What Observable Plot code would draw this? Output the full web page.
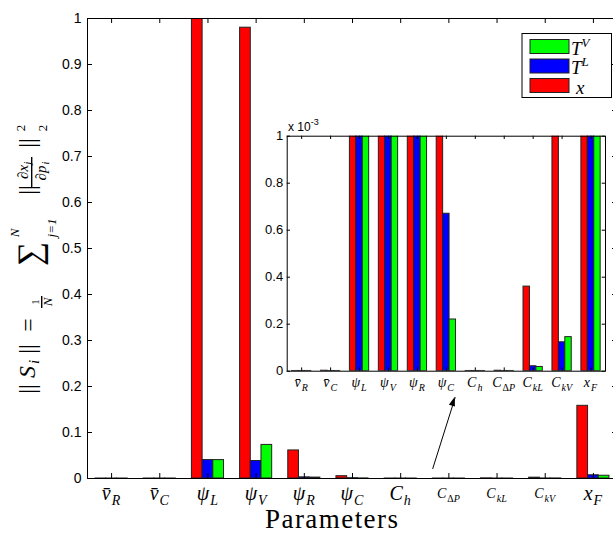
<!DOCTYPE html>
<html><head><meta charset="utf-8">
<script src="https://cdn.jsdelivr.net/npm/d3@7"></script>
<script src="https://cdn.jsdelivr.net/npm/@observablehq/plot@0.6"></script>
<style>
html,body{margin:0;padding:0;background:#fff;overflow:hidden}
#wrap{position:relative;width:613px;height:533px;overflow:hidden;background:#fff}
#wrap svg{position:absolute;background:transparent !important;}
#wrap svg text.serif{font-family:"Liberation Serif",serif !important;}
</style></head><body><div id="wrap"></div>
<script>
// ---- data ----
const categories = ["vR","vC","psiL","psiV","psiR","psiC","Ch","CdP","CkL","CkV","xF"];
const tickLabels = [
  {base:"v\u0304", sub:"R"}, {base:"v\u0304", sub:"C"}, {base:"ψ", sub:"L"}, {base:"ψ", sub:"V"},
  {base:"ψ", sub:"R"}, {base:"ψ", sub:"C"}, {base:"C", sub:"h"}, {base:"C", sub:"ΔP"},
  {base:"C", sub:"kL"}, {base:"C", sub:"kV"}, {base:"x", sub:"F"}
];
const seriesNames = ["x", "T^L", "T^V"];
const seriesLabels = [{base:"x", sup:""}, {base:"T", sup:"L"}, {base:"T", sup:"V"}];
const seriesColors = ["#ff0000", "#0000ff", "#00ff00"];
const xValues  = [0.000001, 0.000002, 1.0, 0.98, 0.061, 0.005, 0.000001, 0.000002, 0.00036, 0.0018, 0.158];
const tlValues = [0.000001, 0.000001, 0.040, 0.038, 0.0025, 0.00067, 0.000001, 0.000001, 0.000021, 0.000123, 0.007];
const tvValues = [0.000001, 0.000001, 0.040, 0.073, 0.002, 0.00022, 0.000001, 0.000001, 0.000018, 0.000145, 0.006];
const mainYTicks = [0, 0.1, 0.2, 0.3, 0.4, 0.5, 0.6, 0.7, 0.8, 0.9, 1];
const insetYTicks = [0, 0.0002, 0.0004, 0.0006, 0.0008, 0.001];
const arrowData = [{x1: 7.666, y1: 0.0217, x2: 8.13, y2: 0.176}];
const xLabel = "Parameters";

// ---- build ----
const valueSets = [xValues, tlValues, tvValues];
const rows = categories.flatMap((c, i) => seriesNames.map((s, j) => ({cat: c, pos: i + 1, series: s, j, value: valueSets[j][i]})));
const positions = categories.map((c, i) => i + 1);
const barW = 0.222;
const sans = "'Liberation Sans',Arial,sans-serif";
const wrap = document.getElementById("wrap");

function bars() {
  return Plot.rect(rows, {
    x1: d => d.pos + (d.j - 1.5) * barW,
    x2: d => d.pos + (d.j - 0.5) * barW,
    y1: d => 0, y2: "value", fill: "series", stroke: "#222", strokeWidth: 1, clip: true
  });
}

// main chart
const mW = 613, mH = 533, mL = 87, mT = 18, mB = 55, mR = -4;
const plotW = mW - mL - mR, plotH = mH - mT - mB;
const main = Plot.plot({
  width: mW, height: mH, marginLeft: mL, marginTop: mT, marginBottom: mB, marginRight: mR,
  style: {fontFamily: sans, fontSize: "14px", background: "transparent"},
  x: {domain: [0.5, 11.5], axis: null},
  y: {domain: [0, 1], axis: null},
  color: {domain: seriesNames, range: seriesColors},
  marks: [
    bars(),
    Plot.ruleX(positions, {insetTop: plotH - 5, stroke: "black"}),
    Plot.ruleX(positions, {insetBottom: plotH - 5, stroke: "black"}),
    Plot.ruleY(mainYTicks, {insetRight: plotW - 5, stroke: "black"}),
    Plot.ruleY(mainYTicks, {insetLeft: plotW - 5, stroke: "black"}),
    Plot.axisY({ticks: mainYTicks, tickSize: 0, tickPadding: 6, tickFormat: d => String(+d.toFixed(3)), label: null, fontSize: 14, fill: "black"}),
    Plot.frame({stroke: "black"}),
    Plot.arrow(arrowData, {x1: "x1", y1: "y1", x2: "x2", y2: "y2", headLength: 0, stroke: "black", strokeWidth: 1})
  ]
});
main.style.left = "0px"; main.style.top = "0px";
wrap.appendChild(main);

function mathLabel(sel, x, y, lab, baseSize, subSize, shift) {
  const t = sel.append("text").attr("class", "serif").attr("x", x).attr("y", y).attr("text-anchor", "middle")
    .style("font-style", "italic").style("font-size", baseSize + "px").attr("fill", "black");
  t.append("tspan").text(lab.base);
  [...lab.sub].forEach((ch, k) => {
    const ts = t.append("tspan").style("font-size", subSize + "px").text(ch);
    if (k === 0) ts.attr("dy", shift).attr("dx", 1);
    if (ch === "Δ") ts.style("font-style", "normal");
  });
}

const msvg = d3.select(main);
const mx = main.scale("x"), my = main.scale("y");

// filled arrowhead at the arrow's end, positioned through the plot's scales
arrowData.forEach(a => {
  const X1 = mx.apply(a.x1), Y1 = my.apply(a.y1), X2 = mx.apply(a.x2), Y2 = my.apply(a.y2);
  const ang = Math.atan2(Y2 - Y1, X2 - X1);
  const L = 9, Wd = 3.2;
  const bx = X2 - L * Math.cos(ang), by = Y2 - L * Math.sin(ang);
  const px = -Math.sin(ang) * Wd, py = Math.cos(ang) * Wd;
  msvg.append("path").attr("d", `M${X2},${Y2}L${bx + px},${by + py}L${bx - px},${by - py}Z`).attr("fill", "black");
});

const small = new Set(["CdP", "CkL", "CkV"]);
categories.forEach((c, i) => {
  const px = mx.apply(i + 1);
  if (small.has(c)) mathLabel(msvg, px, 498, tickLabels[i], 14, 10, 3.5);
  else mathLabel(msvg, px, 500, tickLabels[i], 20, 14, 5);
});
msvg.append("text").attr("class", "serif").attr("x", 331.5).attr("y", 528).attr("text-anchor", "middle")
  .attr("textLength", 133).attr("lengthAdjust", "spacing")
  .style("font-size", "27px").attr("fill", "black").text(xLabel);

// y label (rotated formula)
const yl = msvg.append("g").attr("transform", "rotate(-90)").attr("fill", "black");
function put(txt, Y, X, size, italic) {
  return yl.append("text").attr("class", "serif").attr("x", -Y).attr("y", X).attr("text-anchor", "middle")
    .style("font-size", size + "px").style("font-style", italic ? "italic" : "normal").text(txt);
}
function bar(Y1, Y2, X) {
  yl.append("line").attr("x1", -Y1).attr("x2", -Y2).attr("y1", X).attr("y2", X).attr("stroke", "black").attr("stroke-width", 1.4);
}
put("||", 389, 35, 24, false);
put("S", 372, 35, 24, true);
put("i", 362, 39, 15, true);
put("||", 349, 35, 24, false);
put("=", 325, 36, 24, false);
put("1", 302, 39, 11, false);
bar(296, 308, 41.7);
put("N", 302, 52, 13, true);
put("∑", 254, 41, 34, false);
put("N", 233, 19, 13, true);
put("j=1", 228, 56, 13, true);
put("||", 190, 35, 24, false);
put("∂x", 172, 28, 15, true); put("j", 163, 31, 10, true);
bar(157, 187, 31.7);
put("∂p", 173, 46, 15, true); put("i", 163, 49, 10, true);
put("||", 143, 35, 24, false);
put("2", 128, 25, 13, false);
put("2", 128, 47, 13, false);

// legend
const lg = msvg.append("g");
lg.append("rect").attr("x", 522).attr("y", 33.5).attr("width", 89.5).attr("height", 64)
  .attr("fill", "white").attr("stroke", "black").attr("stroke-width", 1);
[2, 1, 0].forEach((j, k) => {
  const top = 39.5 + k * 19.5;
  lg.append("rect").attr("x", 530).attr("y", top).attr("width", 39).attr("height", 14)
    .attr("fill", seriesColors[j]).attr("stroke", "#222").attr("stroke-width", 1);
  const t = lg.append("text").attr("class", "serif").attr("x", seriesLabels[j].sup ? 571 : 576).attr("y", top + 15).attr("fill", "black")
    .attr("text-anchor", "start").style("font-style", "italic").style("font-size", "19px");
  t.append("tspan").text(seriesLabels[j].base);
  if (seriesLabels[j].sup) t.append("tspan").attr("dy", -8).style("font-size", "13px").text(seriesLabels[j].sup);
});

// inset chart
const iLeft = 240, iTop = 110, iW = 373, iH = 300;
const iL = 286.7 - iLeft, iR = 613 - 605, iT = 135.7 - iTop, iB = iTop + iH - 370.7;
const iPW = iW - iL - iR, iPH = iH - iT - iB;
const inset = Plot.plot({
  width: iW, height: iH, marginLeft: iL, marginRight: iR, marginTop: iT, marginBottom: iB,
  style: {fontFamily: sans, fontSize: "13px", background: "transparent"},
  x: {domain: [0.5, 11.5], axis: null},
  y: {domain: [0, 0.001], axis: null},
  color: {domain: seriesNames, range: seriesColors},
  marks: [
    Plot.frame({fill: "white"}),
    bars(),
    Plot.ruleX(positions, {insetTop: iPH - 3.3, stroke: "black"}),
    Plot.ruleX(positions, {insetBottom: iPH - 3.3, stroke: "black"}),
    Plot.ruleY(insetYTicks, {insetRight: iPW - 3.3, stroke: "black"}),
    Plot.ruleY(insetYTicks, {insetLeft: iPW - 3.3, stroke: "black"}),
    Plot.axisY({ticks: insetYTicks, tickSize: 0, tickPadding: 4, tickFormat: d => String(+(d * 1000).toFixed(1)), label: null, fontSize: 13, fill: "black"}),
    Plot.frame({stroke: "black"})
  ]
});
inset.style.left = iLeft + "px"; inset.style.top = iTop + "px";
wrap.appendChild(inset);
const isvg = d3.select(inset);
const ix = inset.scale("x");
categories.forEach((c, i) => {
  mathLabel(isvg, ix.apply(i + 1), 387 - iTop, tickLabels[i], 14, 10, 4);
});
const ex = isvg.append("text").attr("x", 288 - iLeft).attr("y", 131 - iTop).attr("fill", "black")
  .attr("text-anchor", "start").style("font-family", sans).style("font-size", "12px");
ex.append("tspan").text("x 10");
ex.append("tspan").attr("dy", -6).style("font-size", "9px").text("-3");
</script></body></html>
